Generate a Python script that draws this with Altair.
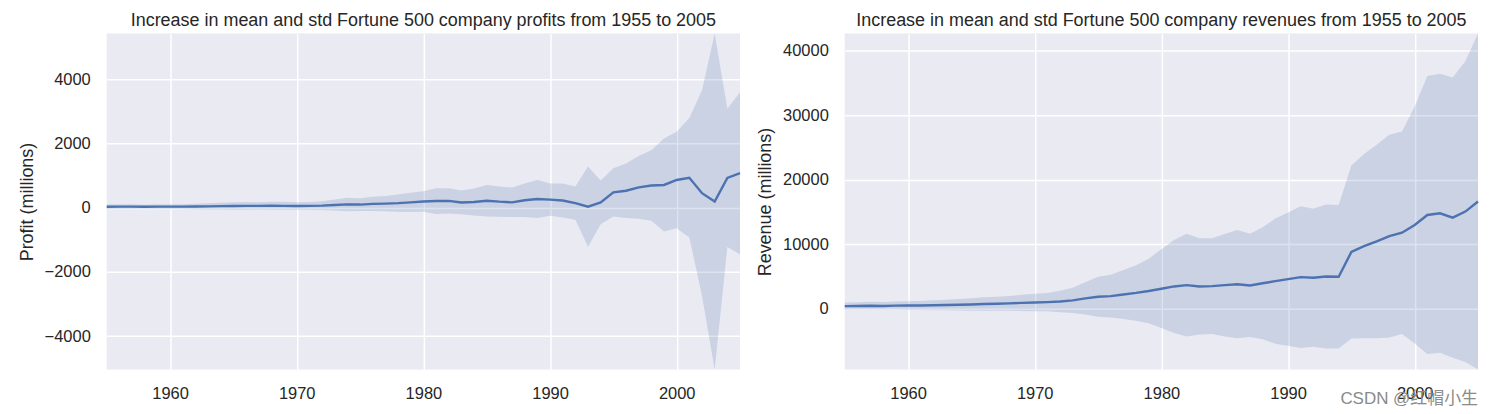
import altair as alt
import pandas as pd

years = list(range(1955, 2006))

profit_mean = [27, 30, 31, 27, 31, 31, 31, 35, 39, 45,
               51, 55, 53, 57, 56, 50, 54, 62, 80, 100,
               95, 115, 125, 140, 165, 190, 205, 210, 160, 175,
               215, 185, 165, 230, 270, 250, 220, 140, 30, 165,
               475, 525, 630, 690, 705, 860, 930, 450, 190, 925,
               1070]
profit_std = [70, 75, 75, 65, 72, 75, 75, 85, 95, 105,
              115, 120, 115, 125, 125, 115, 120, 135, 170, 210,
              200, 220, 240, 265, 300, 320, 400, 390, 370, 420,
              490, 470, 460, 520, 590, 500, 530, 515, 1250, 680,
              750, 850, 980, 1095, 1450, 1500, 1860, 3200, 5230, 2150,
              2520]

revenue_mean = [400, 420, 450, 430, 470, 490, 500, 540, 570, 610,
                660, 720, 760, 830, 900, 960, 1020, 1120, 1300, 1600,
                1850, 1950, 2200, 2450, 2750, 3100, 3450, 3650, 3450, 3500,
                3650, 3800, 3600, 3950, 4270, 4580, 4900, 4790, 5000, 4950,
                8800, 9690, 10420, 11250, 11770, 12970, 14530, 14790, 14110, 15050,
                16610]
revenue_std = [560, 590, 630, 600, 650, 680, 700, 760, 810, 880,
               960, 1050, 1080, 1150, 1250, 1350, 1400, 1650, 1950, 2500,
               3100, 3300, 3800, 4300, 5000, 6100, 7200, 7970, 7450, 7420,
               7940, 8390, 8000, 8670, 9710, 10310, 10990, 10680, 11150, 11120,
               13410, 14270, 15000, 15700, 15680, 18360, 21540, 21610, 21720, 23310,
               26040]

x_ticks = [1960, 1970, 1980, 1990, 2000]
profit_ticks = [-4000, -2000, 0, 2000, 4000]
revenue_ticks = [0, 10000, 20000, 30000, 40000]

watermark = ["CSDN @红帽小生"]

df = pd.DataFrame({
    "year": years,
    "profit_mean": profit_mean,
    "profit_std": profit_std,
    "revenue_mean": revenue_mean,
    "revenue_std": revenue_std,
})

BLUE = "#4C72B0"
FONT = "Liberation Sans"


def panel(mean_col, std_col, title, ytitle, yticks, extra=None):
    base = alt.Chart(df).transform_calculate(
        lower=f"datum.{mean_col} - datum.{std_col}",
        upper=f"datum.{mean_col} + datum.{std_col}",
    )
    x = alt.X("year:Q",
              scale=alt.Scale(domain=[1955, 2005], nice=False, zero=False),
              axis=alt.Axis(values=x_ticks, format="d", title=None))
    yscale = alt.Scale(zero=False, nice=False)
    yaxis = alt.Axis(values=yticks, format="d", title=ytitle)
    band = base.mark_area(color=BLUE, opacity=0.2).encode(
        x=x,
        y=alt.Y("lower:Q", scale=yscale, axis=yaxis),
        y2="upper:Q",
    )
    line = base.mark_line(color=BLUE, strokeWidth=2.4).encode(
        x=x,
        y=alt.Y(f"{mean_col}:Q", scale=yscale, axis=yaxis),
    )
    layers = [band, line]
    if extra is not None:
        layers.append(extra)
    return alt.layer(*layers).properties(width=635, height=337, title=title)


wm = alt.Chart(pd.DataFrame({"t": watermark})).mark_text(
    align="left", baseline="alphabetic", fontSize=17,
    font="Liberation Sans, Noto Sans CJK SC", color="#8a8a8a", clip=False,
).encode(x=alt.value(497), y=alt.value(372), text="t:N")

left = panel("profit_mean", "profit_std",
             "Increase in mean and std Fortune 500 company profits from 1955 to 2005",
             "Profit (millions)", profit_ticks)
right = panel("revenue_mean", "revenue_std",
              "Increase in mean and std Fortune 500 company revenues from 1955 to 2005",
              "Revenue (millions)", revenue_ticks, extra=wm)

chart = alt.hconcat(left, right, spacing=11).properties(
    padding={"left": 10, "top": 4, "right": 2, "bottom": 0},
    background="white",
).configure_view(
    fill="#EAEAF2", stroke=None, strokeWidth=0,
).configure_axis(
    grid=True, gridColor="white", gridWidth=1.5, gridOpacity=1,
    domain=False, ticks=False,
    labelFont=FONT, labelFontSize=16.5, labelColor="#262626", labelPadding=16.5,
    titleFont=FONT, titleFontSize=18, titleColor="#262626", titleFontWeight="normal",
    titlePadding=8,
).configure_title(
    font=FONT, fontSize=18, fontWeight="normal", color="#262626",
    anchor="middle", baseline="alphabetic", offset=3,
)

chart.save("out.html", embed_options={"renderer": "svg", "actions": False})
